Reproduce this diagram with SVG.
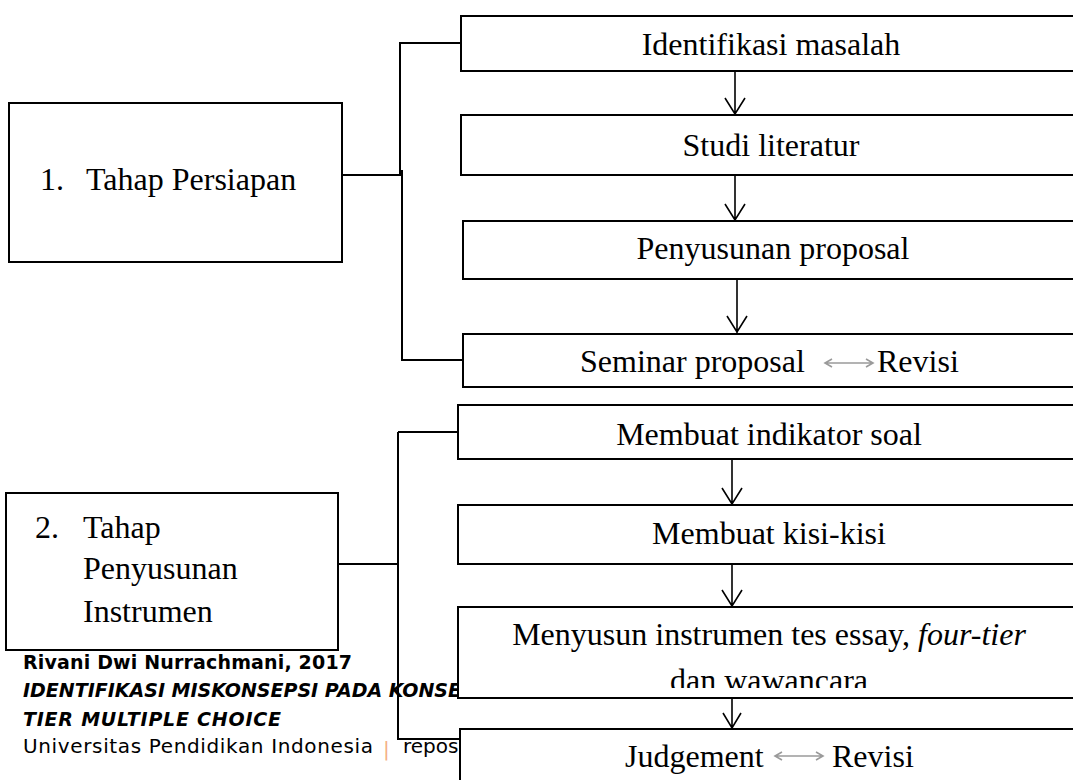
<svg xmlns="http://www.w3.org/2000/svg" width="1073" height="780" viewBox="0 0 1073 780">
<style>
.box{fill:#fff;stroke:#000;stroke-width:2}
.ln{fill:none;stroke:#000;stroke-width:2}
.ar{fill:none;stroke:#000;stroke-width:1.6}
.dar{fill:none;stroke:#9a9a9a;stroke-width:1.6}
.t{font-family:"Liberation Serif","Times New Roman",serif;font-size:32px;fill:#000}
.c{text-anchor:middle}
.fb{font-family:"DejaVu Sans",Tahoma,sans-serif;font-weight:bold;font-size:19px;fill:#000}
.fr{font-family:"DejaVu Sans",Tahoma,sans-serif;font-size:20px;fill:#000}
</style>
<defs>
<clipPath id="clipG"><rect x="458" y="600" width="620" height="88"/></clipPath>
</defs>
<rect width="1073" height="780" fill="#fff"/>

<g id="connectors">
<path class="ln" d="M342,175 H401 M400,175 V43 H461 M402,170 V360 H463"/>
<path class="ln" d="M338,564 H398 M398,432 H458 M398,432 V739 H460"/>
</g>

<g id="footer">
<text class="fb" x="23" y="669" textLength="329" lengthAdjust="spacing">Rivani Dwi Nurrachmani, 2017</text>
<text class="fb" x="23" y="697" font-style="italic">IDENTIFIKASI MISKONSEPSI PADA KONSE</text>
<text class="fb" x="23" y="726" font-style="italic" textLength="258" lengthAdjust="spacing">TIER MULTIPLE CHOICE</text>
<text class="fr" x="23" y="753" textLength="350" lengthAdjust="spacing">Universitas Pendidikan Indonesia</text>
<text class="fr" x="383" y="756" style="fill:#f4b183">|</text>
<text class="fr" x="403" y="753">repos</text>
</g>

<g id="stage1">
<rect class="box" x="9" y="103" width="333" height="159"/>
<text class="t" x="40" y="190">1.</text>
<text class="t" x="86" y="190">Tahap Persiapan</text>
</g>

<g id="stage2">
<rect class="box" x="6" y="493" width="332" height="157"/>
<text class="t" x="35" y="538">2.</text>
<text class="t" x="83" y="538">Tahap</text>
<text class="t" x="83" y="579">Penyusunan</text>
<text class="t" x="83" y="622">Instrumen</text>
</g>

<g id="identifikasi">
<rect class="box" x="461" y="16" width="640" height="55"/>
<text class="t c" x="771" y="55">Identifikasi masalah</text>
</g>
<g id="studi">
<rect class="box" x="461" y="115" width="640" height="60"/>
<text class="t c" x="771" y="156">Studi literatur</text>
</g>
<g id="penyusunan">
<rect class="box" x="463" y="221" width="640" height="58"/>
<text class="t c" x="773" y="259">Penyusunan proposal</text>
</g>
<g id="seminar">
<rect class="box" x="463" y="334" width="640" height="53"/>
<text class="t" x="580" y="372">Seminar proposal</text>
<path class="dar" d="M825,363 H873 M832,359 L825,363 L832,367 M866,359 L873,363 L866,367"/>
<text class="t" x="877" y="372">Revisi</text>
</g>

<g id="indikator">
<rect class="box" x="458" y="405" width="640" height="54"/>
<text class="t c" x="769" y="445">Membuat indikator soal</text>
</g>
<g id="kisi">
<rect class="box" x="458" y="505" width="640" height="59"/>
<text class="t c" x="769" y="544">Membuat kisi-kisi</text>
</g>
<g id="menyusun">
<rect class="box" x="458" y="607" width="640" height="91"/>
<text class="t c" x="769" y="645">Menyusun instrumen tes essay,  <tspan font-style="italic">four-tier</tspan></text>
<text class="t c" x="769" y="691" clip-path="url(#clipG)">dan wawancara</text>
</g>
<g id="judgement">
<rect class="box" x="460" y="729" width="640" height="80"/>
<text class="t" x="625" y="767">Judgement</text>
<path class="dar" d="M775,756 H823 M782,752 L775,756 L782,760 M816,752 L823,756 L816,760"/>
<text class="t" x="832" y="767">Revisi</text>
</g>

<g id="arrows">
<path class="ar" d="M735,71 V114 M725,98 L735,114 L745,98"/>
<path class="ar" d="M735,175 V220 M725,204 L735,220 L745,204"/>
<path class="ar" d="M737,279 V333 M727,316 L737,332 L747,316"/>
<path class="ar" d="M732,459 V504 M722,488 L732,504 L742,488"/>
<path class="ar" d="M732,564 V606 M722,590 L732,606 L742,590"/>
<path class="ar" d="M732,698 V728 M723,713 L732,728 L741,713"/>
</g>
</svg>
